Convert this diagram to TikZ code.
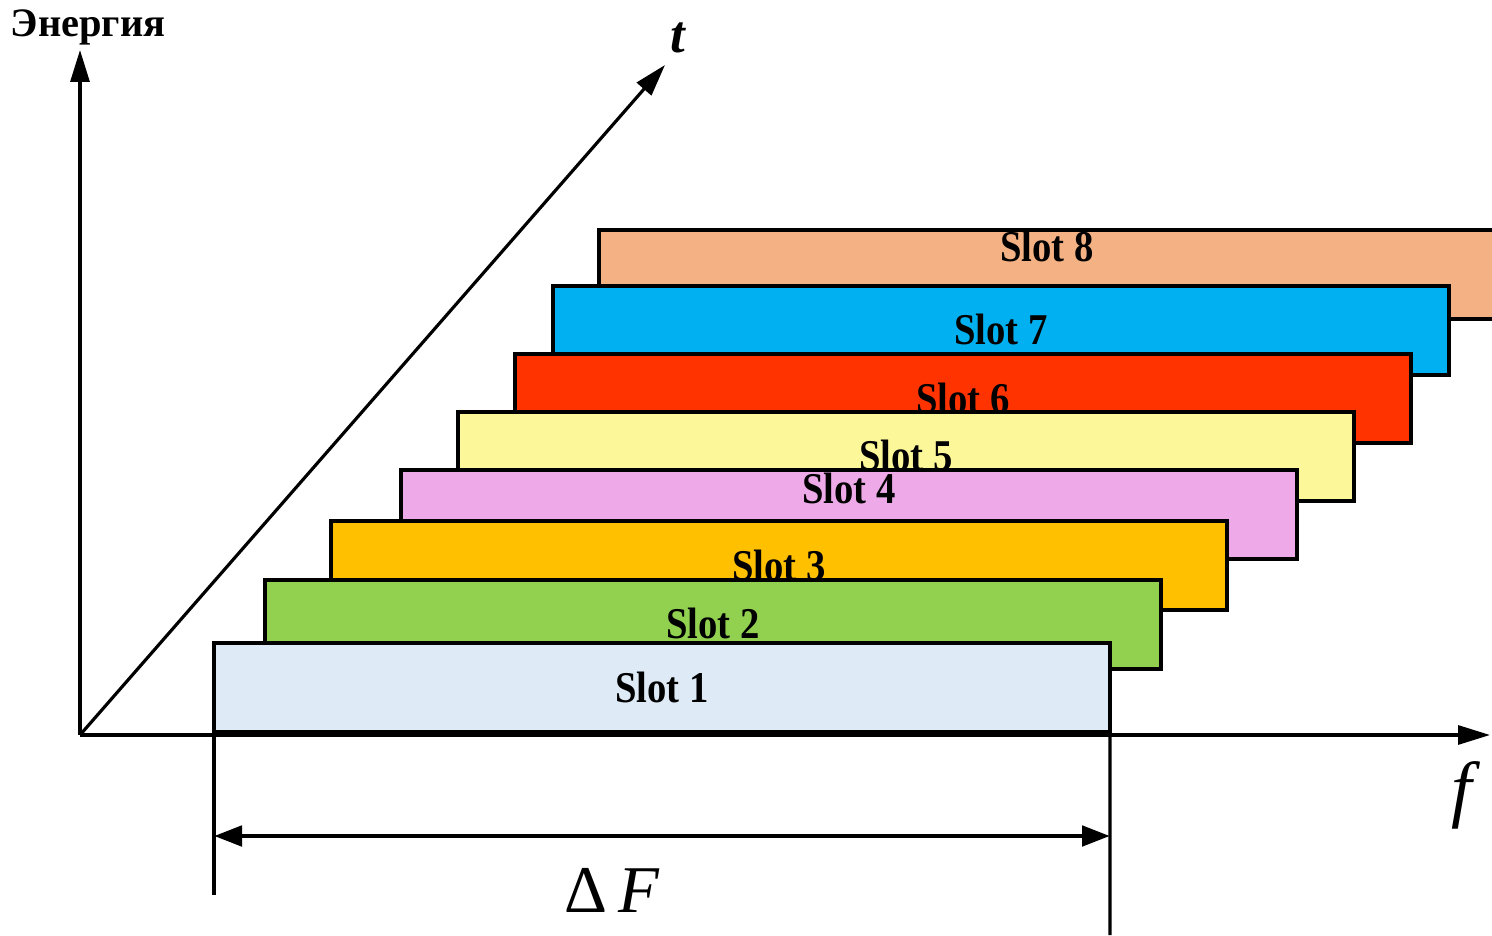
\documentclass[tikz,border=0pt]{standalone}
\usepackage{fontspec}
\usepackage{graphicx}
\usepackage{xcolor}
\setmainfont{Liberation Serif}
\usetikzlibrary{arrows.meta, calc}

\definecolor{slotA}{HTML}{DEEAF6}
\definecolor{slotB}{HTML}{92D050}
\definecolor{slotC}{HTML}{FFC000}
\definecolor{slotD}{HTML}{EEAAE8}
\definecolor{slotE}{HTML}{FCF89A}
\definecolor{slotF}{HTML}{FF3300}
\definecolor{slotG}{HTML}{00B0F0}
\definecolor{slotH}{HTML}{F4B183}

\newcommand{\slotname}[1]{\scalebox{0.88}[1]{Slot #1}}

\tikzset{
    axis/.style={line width=0.9pt, -{Triangle[length=3.2mm, width=1.9mm]}},
    slot/.style={draw, line width=1pt, anchor=south west, inner sep=0pt, outer sep=0pt,
        minimum width=8.96cm, minimum height=0.89cm},
    slotlabel/.style={font=\fontsize{12.5}{14}\selectfont\bfseries, inner sep=0pt},
    dimline/.style={line width=0.9pt},
    dimarrow/.style={line width=1.4pt, {Triangle[length=2.8mm, width=2mm]}-{Triangle[length=2.8mm, width=2mm]}}
}

\begin{document}
\begin{tikzpicture}
        \useasboundingbox (-0.80,-2.00) rectangle (14.12,7.35);

        % Draw the axes
        \coordinate (o) at (0,0);
        \coordinate (etop) at (0,6.85);
        \coordinate (ttop) at (5.85,6.70);
        \coordinate (fend) at (14.10,0);
        \draw[axis] (o) -- (etop);
        \draw[axis] (o) -- (ttop);
        \draw[axis] (o) -- (fend);
        \node[font=\fontsize{11.5}{13}\selectfont\bfseries] (elabel) at (0.08,7.08) {Энергия};
        \node[font=\fontsize{15}{17}\selectfont\bfseries\itshape] (tlabel) at (5.98,6.97) {t};
        \node[font=\fontsize{21}{23}\selectfont\itshape] (flabel) at (13.82,-0.60) {f};

        % Draw the slots, back to front
        \node[slot, fill=slotH] (s8) at (5.19,4.16) {};
        \node[slot, fill=slotG] (s7) at (4.73,3.60) {};
        \node[slot, fill=slotF] (s6) at (4.35,2.92) {};
        \node[slot, fill=slotE] (s5) at (3.78,2.34) {};
        \node[slot, fill=slotD] (s4) at (3.21,1.76) {};
        \node[slot, fill=slotC] (s3) at (2.51,1.25) {};
        \node[slot, fill=slotB] (s2) at (1.85,0.66) {};
        \node[slot, fill=slotA] (s1) at (1.34,0.03) {};

        % Slot labels
        \node[slotlabel] (l8) at ($(s8.center)+(0,0.28)$) {\slotname{8}};
        \node[slotlabel] (l7) at ($(s7.center)+(0,0.01)$) {\slotname{7}};
        \node[slotlabel] (l6) at ($(s6.center)+(0,0)$) {\slotname{6}};
        \node[slotlabel] (l5) at ($(s5.center)+(0,0.01)$) {\slotname{5}};
        \node[slotlabel] (l4) at ($(s4.center)+(0,0.26)$) {\slotname{4}};
        \node[slotlabel] (l3) at ($(s3.center)+(0,0)$) {\slotname{3}};
        \node[slotlabel] (l2) at ($(s2.center)+(0,0.01)$) {\slotname{2}};
        \node[slotlabel] (l1) at ($(s1.center)+(0,0)$) {\slotname{1}};

        % Bandwidth of one slot
        \coordinate (dleft) at (1.34,-1.60);
        \coordinate (dright) at (10.30,-2.00);
        \coordinate (aleft) at (1.34,-1.01);
        \coordinate (aright) at (10.30,-1.01);
        \draw[dimline] (s1.south west) -- (dleft);
        \draw[dimline] (s1.south east) -- (dright);
        \draw[dimarrow] (aleft) -- (aright);
        \node[font=\fontsize{19}{22}\selectfont] (dF) at (5.32,-1.55) {Δ\,\textit{F}};
\end{tikzpicture}
\end{document}
